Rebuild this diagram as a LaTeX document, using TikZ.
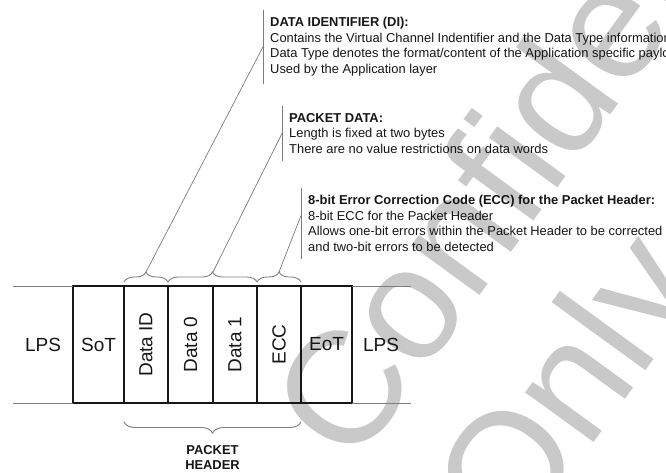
\documentclass[tikz,border=0pt]{standalone}
\usepackage{fontspec}
\setmainfont{Liberation Sans}
\usepackage{xcolor}
\usepackage{tikz}
\usetikzlibrary{positioning,calc,decorations.pathreplacing}
\definecolor{cInk}{HTML}{161616}
\definecolor{cRule}{HTML}{7C7C7C}
\definecolor{cMark}{HTML}{C9C9C9}
\tikzset{
  cell/.style={draw=cInk,line width=1.3pt,minimum height=117pt,minimum width=#1,inner sep=0pt,outer sep=0pt,font=\fontsize{19}{22}\selectfont,text=cInk},
  cell/.default=44pt,
  lps/.style={inner sep=0pt,font=\fontsize{19}{22}\selectfont,text=cInk},
  rail/.style={draw=cRule,line width=1pt},
  brc/.style={decorate,decoration={brace,amplitude=#1},draw=cRule,line width=0.9pt},
  brc/.default=10pt,
  lead/.style={draw=cRule,line width=0.7pt},
  bar/.style={draw=cRule,line width=1pt},
  note/.style={anchor=north west,align=left,inner xsep=7pt,inner ysep=7pt,font=\fontsize{12.9}{15.7}\selectfont,text=cInk},
  hdr/.style={align=center,inner sep=0pt,font=\bfseries\fontsize{12.9}{15}\selectfont,text=cInk},
  wmark/.style={anchor=base west,inner sep=0pt,rotate=54,font=\fontsize{160}{192}\selectfont,text=cMark},
}

\begin{document}
\begin{tikzpicture}[x=1pt,y=-1pt]
  \useasboundingbox (0,0) rectangle (666,472);
  \clip (0,0) rectangle (666,472);
  % watermark
  \node[wmark] (wmconf) at (353,470) {Confidential};
  \node[wmark] (wmonly) at (514,552) {Only};

  \node[cell=51pt] (sot) at (98.5,344.5) {SoT};
  \node[cell=44pt,right=0pt of sot] (di)  {\rotatebox{90}{Data ID}};
  \node[cell=45pt,right=0pt of di]  (d0)  {\rotatebox{90}{Data 0}};
  \node[cell=44pt,right=0pt of d0]  (d1)  {\rotatebox{90}{Data 1}};
  \node[cell=44pt,right=0pt of d1]  (ecc) {\rotatebox{90}{ECC}};
  \node[cell=51pt,right=0pt of ecc] (eot) {EoT};
  \node[lps] (lpsl) at (43,344.5)  {LPS};
  \node[lps] (lpsr) at (381,344.5) {LPS};

  \coordinate (railtl) at (13,286);
  \coordinate (railtr) at (411,286);
  \coordinate (railbl) at (13,403);
  \coordinate (railbr) at (411,403);
  \draw[rail] (railtl) -- (sot.north west) (eot.north east) -- (railtr);
  \draw[rail] (railbl) -- (sot.south west) (eot.south east) -- (railbr);

  \draw[brc] ([yshift=4pt]di.north west) -- ([yshift=4pt]di.north east);
  \draw[brc] ([yshift=4pt]d0.north west) -- ([yshift=4pt]d1.north east);
  \draw[brc] ([yshift=4pt]ecc.north west) -- ([yshift=4pt]ecc.north east);
  \draw[brc=11pt] ([yshift=-19pt]ecc.south east) -- ([yshift=-19pt]di.south west);
  \coordinate (tipdi)  at ([yshift=14pt]di.north);
  \coordinate (tipdat) at ([yshift=14pt]d0.north east);
  \coordinate (tipecc) at ([yshift=14pt]ecc.north);
  \path ($(di.south west)!.5!(ecc.south east)$) ++(0,30) coordinate (tiphdr);
  \node[hdr,below=12pt of tiphdr] (hdrlbl) {PACKET\\HEADER};

  \node[note] (dinote) at (263,10) {\textbf{DATA IDENTIFIER (DI):}\\
    Contains the Virtual Channel Indentifier and the Data Type information\\
    Data Type denotes the format/content of the Application specific payload data\\
    Used by the Application layer};
  \node[note] (pdnote) at (282,106) {\textbf{PACKET DATA:}\\
    Length is fixed at two bytes\\
    There are no value restrictions on data words};
  \node[note] (eccnote) at (301,188) {\textbf{8-bit Error Correction Code (ECC) for the Packet Header:}\\
    8-bit ECC for the Packet Header\\
    Allows one-bit errors within the Packet Header to be corrected\\
    and two-bit errors to be detected};
  \draw[bar] (dinote.north west) -- (dinote.south west);
  \draw[bar] (pdnote.north west) -- (pdnote.south west);
  \draw[bar] (eccnote.north west) -- (eccnote.south west);
  \draw[lead] (tipdi) -- (dinote.west);
  \draw[lead] (tipdat) -- (pdnote.west);
  \draw[lead] (tipecc) -- ([yshift=8pt]eccnote.west);
\end{tikzpicture}
\end{document}
